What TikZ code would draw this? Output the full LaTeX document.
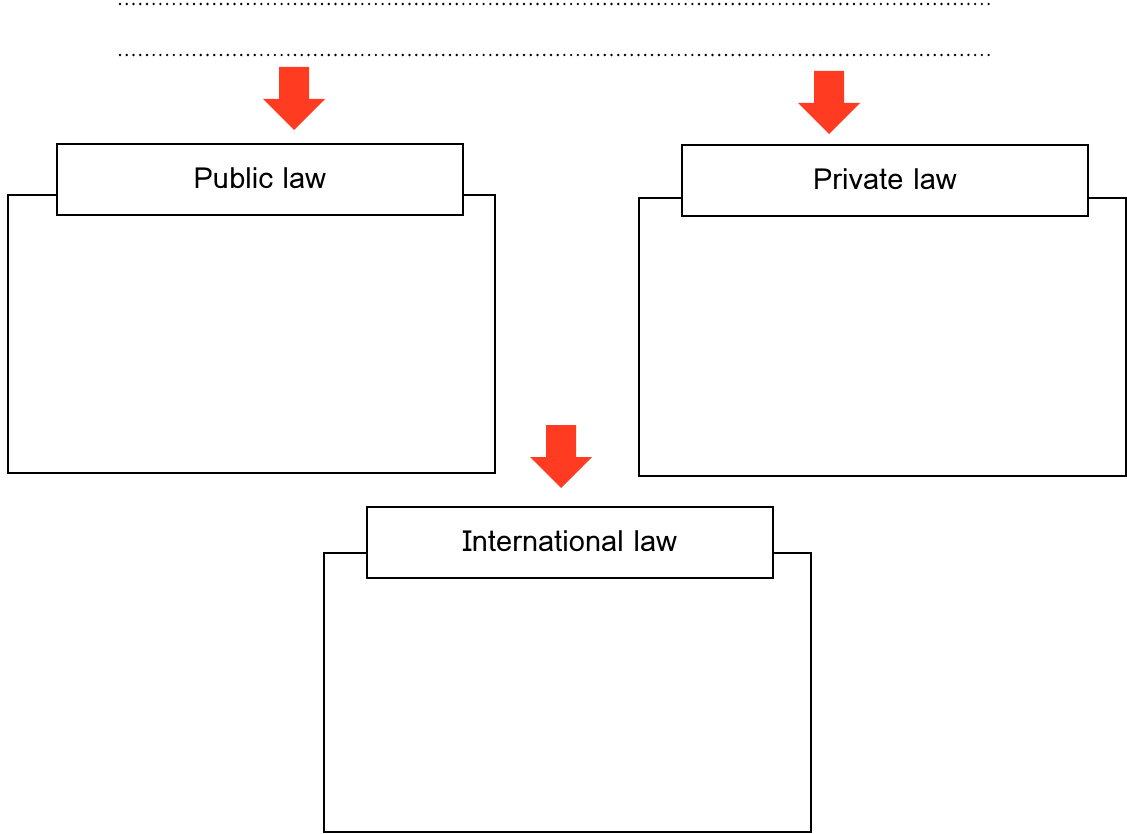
\documentclass[tikz,border=0pt]{standalone}
\usepackage{fontspec}
\newfontfamily\thaifont[Script=Thai]{Loma}
\definecolor{arrowred}{RGB}{255,59,34}
\tikzset{
  backbox/.style={draw=black, line width=1.1pt, fill=white},
  headbox/.style={draw=black, line width=1.1pt, fill=white, minimum width=406*0.75pt, minimum height=71*0.75pt, inner sep=0pt, font=\thaifont\fontsize{21.8}{25}\selectfont},
  dotline/.style={line width=2pt, line cap=round, dash pattern=on 0pt off 5.05pt},
  redarrow/.style={fill=arrowred, draw=none}
}
\begin{document}
\begin{tikzpicture}[x=0.75pt,y=-0.75pt]
\useasboundingbox (0,0) rectangle (1127,834);
% dotted lines
\coordinate (d1a) at (120,4); \coordinate (d1b) at (990,4);
\coordinate (d2a) at (120,55); \coordinate (d2b) at (990,55);
\draw[dotline] (d1a) -- (d1b);
\draw[dotline] (d2a) -- (d2b);
% arrows
\foreach \cx/\ty [count=\i] in {294/67, 829/71, 561/425}{
  \fill[redarrow] (\cx-15,\ty) -- (\cx+15,\ty) -- (\cx+15,\ty+32) -- (\cx+31,\ty+32) -- (\cx,\ty+63) -- (\cx-31,\ty+32) -- (\cx-15,\ty+32) -- cycle;
}
% box 1
\draw[backbox] (8,195) rectangle (495,473);
\node[headbox] (pub) at (260,179.5) {\raisebox{1.5pt}{Public law}};
% box 2
\draw[backbox] (639,198) rectangle (1126,476);
\node[headbox] (pri) at (885,180.5) {\raisebox{1.5pt}{Private law}};
% box 3
\draw[backbox] (324,553) rectangle (811,832);
\node[headbox] (int) at (570,542.5) {\raisebox{1.5pt}{International law}};
\end{tikzpicture}
\end{document}
